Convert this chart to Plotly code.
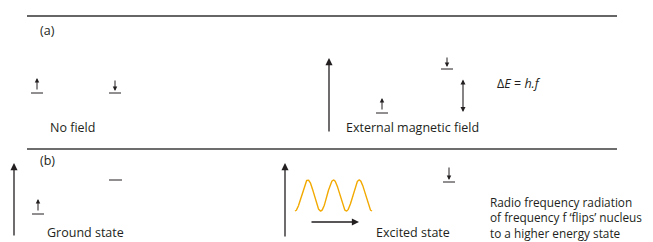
import numpy as np
import plotly.graph_objects as go

# Text content
panel_labels = ["(a)", "(b)"]
state_labels = ["No field", "External magnetic field", "Ground state", "Excited state"]
energy_label = "Δ<i>E</i> = <i>h.f</i>"
rf_lines = ["Radio frequency radiation", "of frequency f ‘flips’ nucleus", "to a higher energy state"]
wave_periods = 3

FONT = "Open Sans"
TXT = "#231f20"
FS = 12.5
W, H = 653, 242

fig = go.Figure()

shapes = []
def hline(x0, x1, y, color="#231f20", width=1.0):
    shapes.append(dict(type="line", xref="x", yref="y", x0=x0, x1=x1, y0=y, y1=y,
                       line=dict(color=color, width=width)))

# separator lines
hline(27, 617, 16, "#333333", 1.5)
hline(27, 617, 149, "#6d6d6d", 2.2)

# energy level bars
hline(31, 43, 93)
hline(109, 121, 93)
hline(441, 453, 69)
hline(376, 388, 113)
hline(109, 122, 180)
hline(32, 44, 214)
hline(443, 455, 182)

annotations = []
def arrow(x0, y0, x1, y1, size=1.0, width=1.2, both=False, head=2):
    a = dict(x=x1, y=y1, ax=x0, ay=y0, xref="x", yref="y", axref="x", ayref="y",
             text="", showarrow=True, arrowhead=head, arrowsize=size, arrowwidth=width,
             arrowcolor="#231f20")
    if both:
        a.update(arrowside="end+start", startarrowhead=head, startarrowsize=size)
    annotations.append(a)

# small spin arrows
arrow(37, 91, 37, 78, size=0.9, width=1.0)
arrow(115, 79, 115, 91, size=0.9, width=1.0)
arrow(447, 56, 447, 67, size=0.9, width=1.0)
arrow(382, 111, 382, 98, size=0.9, width=1.0)
arrow(38, 212, 38, 199, size=0.9, width=1.0)
arrow(449, 166, 449, 180, size=0.9, width=1.0)

# big field arrows
arrow(329, 133, 329, 58, size=1.1, width=1.3)
arrow(14, 237, 14, 163, size=1.1, width=1.3)
arrow(285, 238, 285, 163, size=1.1, width=1.3)
# delta E double arrow
arrow(463, 78, 463, 112, size=0.9, width=1.1, both=True)
# horizontal propagation arrow
arrow(310, 222, 359, 222, size=1.1, width=1.3)

def label(x, y, text, size=FS, anchor="left", yanchor="middle"):
    annotations.append(dict(x=x, y=y, xref="x", yref="y", text=text, showarrow=False,
                            xanchor=anchor, yanchor=yanchor, xshift=-1, borderpad=0,
                            align="left",
                            font=dict(family=FONT, size=size, color=TXT)))

label(40, 30, panel_labels[0])
label(40, 160, panel_labels[1])
label(50, 127, state_labels[0])
label(346, 127, state_labels[1])
label(47, 242, state_labels[2], yanchor="bottom")
label(376, 242, state_labels[3], yanchor="bottom")
label(497, 83, energy_label)
label(490, 217, "<br>".join(rf_lines), size=11.8)

# RF wave
xs = np.linspace(295, 372, 300)
period = (372 - 295) / wave_periods
ys = 195.5 + 15.5 * np.cos(2 * np.pi * (xs - 295) / period)
fig.add_trace(go.Scatter(x=xs, y=ys, mode="lines", line=dict(color="#f2a900", width=1.4),
                         hoverinfo="skip", showlegend=False))

fig.update_layout(
    width=W, height=H, margin=dict(l=0, r=0, t=0, b=0),
    paper_bgcolor="white", plot_bgcolor="white",
    xaxis=dict(range=[0, W], visible=False, fixedrange=True),
    yaxis=dict(range=[H, 0], visible=False, fixedrange=True),
    shapes=shapes, annotations=annotations, showlegend=False,
)
fig.write_html("out.html", config={"displayModeBar": False},
               post_script="document.body.style.margin='0';document.body.style.overflow='hidden';")
